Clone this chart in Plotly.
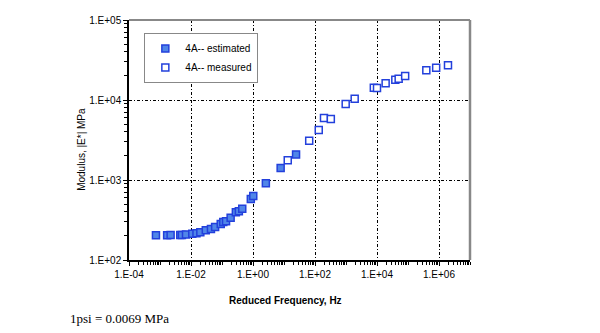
import plotly.graph_objects as go

# Dynamic modulus master curve, mix 4A
est_freq = [7.4e-4, 1.7e-3, 2.2e-3, 4.5e-3, 5.1e-3, 6.9e-3, 1.1e-2, 1.5e-2, 2.0e-2,
            3.0e-2, 4.4e-2, 6.0e-2, 9.1e-2, 0.11, 0.135, 0.19, 0.28, 0.35, 0.45,
            0.85, 1.02, 2.6, 7.8, 24.5]
est_mod = [204, 204, 205, 205, 206, 209, 213, 216, 222, 235, 244, 259, 282, 298,
           305, 338, 394, 406, 438, 579, 631, 910, 1413, 2090]

meas_freq = [13.2, 65, 132, 195, 324, 977, 1905, 7.9e3, 1.0e4, 1.9e4, 3.9e4, 5.0e4,
             8.1e4, 3.9e5, 8.1e5, 1.95e6]
meas_mod = [1762, 3100, 4217, 5957, 5788, 8913, 10380, 14260, 14125, 16180, 17950,
            18460, 19950, 23520, 25350, 27190]

x_tickvals = [1e-4, 1e-2, 1e0, 1e2, 1e4, 1e6]
x_ticktext = ["1.E-04", "1.E-02", "1.E+00", "1.E+02", "1.E+04", "1.E+06"]
y_tickvals = [1e2, 1e3, 1e4, 1e5]
y_ticktext = ["1.E+02", "1.E+03", "1.E+04", "1.E+05"]

EDGE = "#2340dc"
FILL = "#5086e8"
FONT = "Liberation Sans, Arial, sans-serif"

fig = go.Figure()
fig.add_trace(go.Scatter(
    x=est_freq, y=est_mod, mode="markers", name="4A-- estimated",
    marker=dict(symbol="square", size=7, color=FILL, line=dict(color=EDGE, width=1.5)),
))
fig.add_trace(go.Scatter(
    x=meas_freq, y=meas_mod, mode="markers", name="4A-- measured",
    marker=dict(symbol="square", size=7, color="white", line=dict(color=EDGE, width=1.5)),
))

grid = dict(showgrid=True, gridcolor="black", gridwidth=1, griddash="3px,2px,1px,2px")

fig.update_xaxes(
    type="log", range=[-4, 7], tickvals=x_tickvals, ticktext=x_ticktext,
    ticks="outside", ticklen=4, tickcolor="black",
    showline=True, linecolor="black", linewidth=1.5,
    tickfont=dict(family=FONT, size=10, color="black"),
    minor=dict(ticks="outside", ticklen=3, tickcolor="black", dtick="D1", showgrid=False),
    zeroline=False, **grid,
)
fig.update_yaxes(
    type="log", range=[2, 5], tickvals=y_tickvals, ticktext=y_ticktext,
    ticks="outside", ticklen=4, tickcolor="black",
    showline=True, linecolor="black", linewidth=1.5,
    tickfont=dict(family=FONT, size=10, color="black"),
    minor=dict(ticks="outside", ticklen=3, tickcolor="black", dtick="D1", showgrid=False),
    zeroline=False, **grid,
)

# Grey frame on the top and right sides of the plotting area
fig.add_shape(type="line", xref="paper", yref="paper", x0=0, x1=1, y0=1, y1=1,
              line=dict(color="#888888", width=2))
fig.add_shape(type="line", xref="paper", yref="paper", x0=1, x1=1, y0=0, y1=1,
              line=dict(color="#888888", width=2.5))

fig.add_annotation(text="<b>Reduced Frequency, Hz</b>", xref="paper", yref="paper",
                   x=0.46, y=-0.17, yanchor="middle", showarrow=False,
                   font=dict(family=FONT, size=10, color="black"))
fig.add_annotation(text="Modulus, |E*| MPa", xref="paper", yref="paper",
                   x=-0.162, y=0.46, textangle=-90, showarrow=False,
                   font=dict(family=FONT, size=10, color="black"))
fig.add_annotation(text="1psi = 0.0069 MPa", xref="paper", yref="paper",
                   x=-0.18, y=-0.245, xanchor="left", yanchor="middle", showarrow=False,
                   font=dict(family="Liberation Serif, Times New Roman, serif", size=13,
                             color="black"))

fig.update_layout(
    width=600, height=333,
    margin=dict(l=129, r=130, t=20, b=73),
    paper_bgcolor="white", plot_bgcolor="white",
    showlegend=True,
    legend=dict(x=0.045, y=0.946, xanchor="left", yanchor="top",
                bgcolor="white", bordercolor="#888888", borderwidth=1,
                font=dict(family=FONT, size=10, color="black"),
                itemwidth=30, tracegroupgap=4),
)

fig.write_html("out.html")
